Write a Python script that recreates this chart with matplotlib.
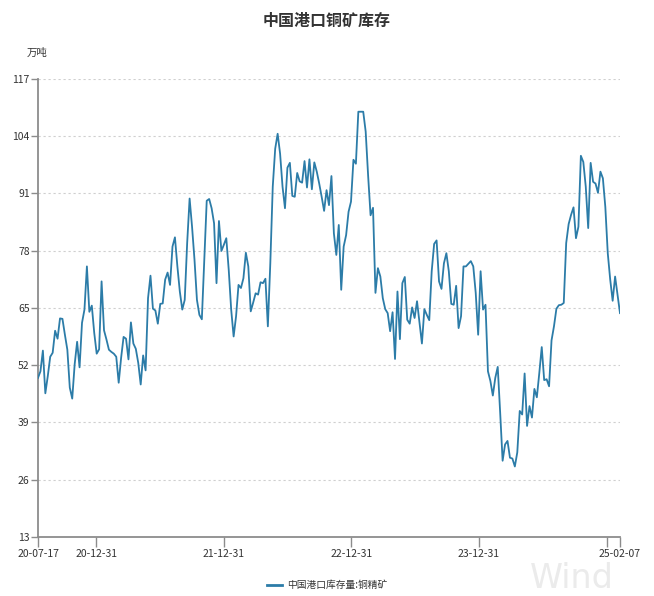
import matplotlib
matplotlib.use("Agg")
import matplotlib.pyplot as plt
from matplotlib.lines import Line2D
import pandas as pd

plt.rcParams['font.family'] = ['Noto Sans CJK SC', 'DejaVu Sans']

title = "中国港口铜矿库存"
unit = "万吨"
series_name = "中国港口库存量:铜精矿"

start_date = "2020-07-17"
end_date = "2025-02-07"

inventory = [
    49.1, 50.6, 55.3, 45.6, 49.5, 53.9, 54.8, 59.8, 58.0, 62.6,
    62.5, 58.9, 55.5, 46.9, 44.4, 52.2, 57.3, 51.5, 61.6, 64.6,
    74.4, 64.1, 65.5, 59.3, 54.6, 55.6, 71.0, 59.9, 57.8, 55.5,
    55.0, 54.6, 53.9, 48.0, 53.7, 58.4, 58.0, 53.3, 61.7, 56.9,
    55.7, 52.5, 47.6, 54.2, 50.8, 67.2, 72.3, 64.8, 64.4, 61.4,
    65.9, 66.0, 71.4, 73.0, 70.2, 78.9, 81.0, 74.4, 68.7, 64.6,
    66.8, 79.7, 89.8, 83.4, 75.9, 66.8, 63.4, 62.4, 75.9, 89.3,
    89.7, 87.6, 84.2, 70.6, 84.7, 77.9, 79.3, 80.8, 73.6, 64.6,
    58.5, 63.1, 70.2, 69.5, 71.7, 77.5, 74.4, 64.2, 66.2, 68.3,
    68.0, 70.8, 70.6, 71.6, 60.8, 75.1, 92.5, 101.1, 104.5, 100.0,
    92.5, 87.6, 96.8, 97.9, 90.4, 90.2, 95.6, 93.7, 93.4, 98.3,
    92.3, 98.7, 91.9, 98.0, 95.9, 93.2, 90.2, 87.0, 91.7, 88.3,
    94.9, 81.9, 77.0, 83.8, 69.1, 78.9, 81.5, 86.8, 89.1, 98.6,
    97.7, 109.5, 109.5, 109.5, 105.0, 95.0, 86.0, 87.7, 68.4, 74.0,
    72.1, 67.2, 64.7, 63.8, 59.7, 64.0, 53.4, 68.7, 57.9, 70.6,
    72.0, 62.3, 61.4, 65.1, 62.7, 66.5, 61.6, 56.9, 64.7, 63.4,
    62.2, 73.3, 79.5, 80.3, 71.0, 69.3, 75.1, 77.4, 73.3, 65.9,
    65.7, 70.0, 60.4, 63.1, 74.4, 74.4, 75.0, 75.6, 74.4, 68.4,
    58.9, 73.3, 64.6, 65.7, 50.6, 48.4, 45.1, 49.1, 51.6, 41.2,
    30.3, 34.0, 34.8, 31.0, 30.8, 29.0, 32.2, 41.6, 40.8, 50.1,
    38.2, 42.7, 40.1, 46.6, 44.7, 50.2, 56.1, 48.6, 48.8, 47.2,
    57.6, 60.8, 64.8, 65.6, 65.7, 66.1, 79.7, 84.0, 86.1, 87.8,
    80.8, 83.4, 99.5, 98.1, 92.5, 83.1, 97.9, 93.6, 93.2, 91.1,
    95.9, 94.4, 87.9, 77.4, 71.4, 66.6, 72.1, 68.0, 63.8,
]

dates = pd.date_range(start_date, end_date, freq="7D")

y_ticks = [13, 26, 39, 52, 65, 78, 91, 104, 117]
x_tick_dates = ["2020-07-17", "2020-12-31", "2021-12-31", "2022-12-31",
                "2023-12-31", "2024-12-31", "2025-02-07"]
x_tick_labels = ["20-07-17", "20-12-31", "21-12-31", "22-12-31",
                 "23-12-31", "", "25-02-07"]

line_color = "#2c7ca8"
axis_color = "#8c8c8c"
text_color = "#333333"

fig = plt.figure(figsize=(6.54, 5.96), dpi=100)
ax = fig.add_axes([0.0581, 0.099, 0.8899, 0.769])

# watermark
fig.text(0.875, 0.030, "Wind", fontsize=24, color="#ebebeb", ha="center",
         va="center", family="DejaVu Sans", zorder=0)

ax.patch.set_alpha(0)
ax.plot(dates, inventory, color=line_color, lw=1.3, zorder=3)

ax.set_ylim(13, 117)
ax.set_xlim(pd.Timestamp(start_date), pd.Timestamp(end_date))
ax.set_yticks(y_ticks)
ax.set_yticklabels([str(v) for v in y_ticks])
ax.set_xticks([pd.Timestamp(d) for d in x_tick_dates])
ax.set_xticklabels(x_tick_labels)

for s in ["top", "right"]:
    ax.spines[s].set_visible(False)
for s in ["left", "bottom"]:
    ax.spines[s].set_color(axis_color)
    ax.spines[s].set_linewidth(1.3)

ax.tick_params(axis="y", direction="out", length=5, width=1, color=axis_color,
               labelsize=7.5, labelcolor=text_color, pad=1)
ax.tick_params(axis="x", direction="out", length=7, width=1, color=axis_color,
               labelsize=7.5, labelcolor=text_color, pad=2)

for v in y_ticks[1:]:
    ax.axhline(v, color="#cfcfcf", lw=0.8, ls=(0, (2, 2.5)), zorder=1)

fig.text(0.5, 0.965, title, ha="center", va="center", fontsize=11.5,
         fontweight="bold", color=text_color)
fig.text(0.057, 0.911, unit, ha="center", va="center", fontsize=7.5,
         color=text_color)

handle = Line2D([0], [0], color=line_color, lw=2)
fig.legend([handle], [series_name], loc="center", bbox_to_anchor=(0.5, 0.018),
           frameon=False, fontsize=7, handlelength=1.6, handletextpad=0.5,
           labelcolor=text_color)

fig.savefig("out.png", dpi=100)
